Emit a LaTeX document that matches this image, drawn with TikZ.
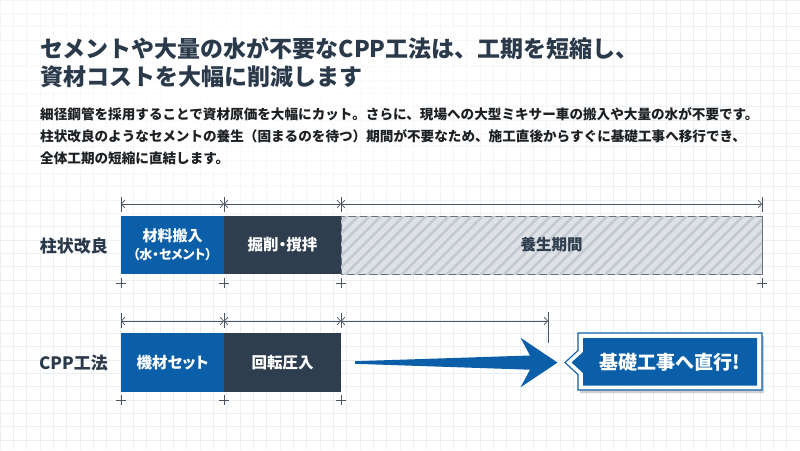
\documentclass[tikz,border=0pt]{standalone}
\usepackage{fontspec}
\newfontfamily\jp{Noto Sans CJK JP}
\newfontfamily\jpp{Noto Sans CJK JP}[RawFeature=+palt]
\usetikzlibrary{arrows.meta,patterns.meta,fadings}
\definecolor{cblue}{HTML}{0B5FA8}
\definecolor{cdark}{HTML}{2E3E4F}
\definecolor{ctitle}{HTML}{2B3A4B}
\definecolor{cbody}{HTML}{1E2124}
\definecolor{cgrid}{HTML}{ECEFF2}
\definecolor{cline}{HTML}{4A5561}
\definecolor{chatchbg}{HTML}{DEE2E6}
\definecolor{chatch}{HTML}{C2C9D0}
\tikzfading[name=fadeC, inner color=transparent!0, outer color=transparent!100]
\tikzset{
  gridline/.style={draw=cgrid, line width=0.6pt},
  titletxt/.style={font=\jp\bfseries\fontsize{23}{28}\selectfont, text=ctitle, anchor=base west, inner sep=0pt},
  bodytxt/.style={font=\jp\bfseries\fontsize{13.6}{18}\selectfont, text=cbody, anchor=base west, inner sep=0pt},
  rowlbl/.style={font=\jp\bfseries\fontsize{17}{20}\selectfont, text=ctitle, anchor=east, inner sep=0pt},
  boxbase/.style={inner sep=0pt, align=center, font=\jpp\bfseries\fontsize{15.5}{19}\selectfont},
  bluebox/.style={boxbase, fill=cblue, text=white},
  darkbox/.style={boxbase, fill=cdark, text=white},
  hatchbox/.style={boxbase, fill=chatchbg, draw=cline!85, line width=0.8pt, text=cdark,
    postaction={pattern={Lines[angle=45,distance=8pt,line width=2.6pt]}, pattern color=chatch}},
  dimline/.style={draw=cline, line width=0.7pt, {Straight Barb[length=3.5pt,width=8pt]}-{Straight Barb[length=3.5pt,width=8pt]}},
  tickline/.style={draw=cline, line width=0.7pt},
  crossmark/.style={draw=cline, line width=0.8pt},
  calltxt/.style={font=\jp\bfseries\fontsize{19}{22}\selectfont, text=white, inner sep=0pt}
}
\begin{document}
\begin{tikzpicture}[x=1pt,y=-1pt]
\useasboundingbox (0,0) rectangle (800,450);
\fill[white] (0,0) rectangle (800,450);
% grid
\foreach \i in {0,...,60} \draw[gridline] (\i*13.333,0) -- (\i*13.333,450);
\foreach \j in {0,...,34} \draw[gridline] (0,\j*13.333) -- (800,\j*13.333);
\fill[white, path fading=fadeC] (-200,-150) rectangle (700,300);

% title and body
\node[titletxt] (t1) at (40,57.7) {セメントや大量の水が不要なCPP工法は、工期を短縮し、};
\node[titletxt] (t2) at (40,85.7) {資材コストを大幅に削減します};
\node[bodytxt] (b1) at (40,119) {細径鋼管を採用することで資材原価を大幅にカット。さらに、現場への大型ミキサー車の搬入や大量の水が不要です。};
\node[bodytxt] (b2) at (40,141) {柱状改良のようなセメントの養生（固まるのを待つ）期間が不要なため、施工直後からすぐに基礎工事へ移行でき、};
\node[bodytxt] (b3) at (40,163) {全体工期の短縮に直結します。};

% row 1
\node[rowlbl] (l1) at (108,246) {柱状改良};
\node[bluebox, minimum width=103pt, minimum height=58pt] (r1a) at (172.5,245) {\fontsize{15}{18}\selectfont 材料搬入\\[-1pt]{\fontsize{13}{16}\selectfont （水・セメント）}};
\node[darkbox, minimum width=117pt, minimum height=58pt] (r1b) at (282.5,245) {掘削・撹拌};
\node[hatchbox, minimum width=421pt, minimum height=58pt] (r1c) at (551.5,245) {養生期間};

\foreach \x in {121,224,341,762} {
  \draw[tickline] (\x,197) -- (\x,212);
  \draw[crossmark] (\x-5,283) -- (\x+5,283) (\x,278) -- (\x,288);
}
\coordinate (d1a) at (121,204);
\coordinate (d1b) at (224,204);
\coordinate (d1c) at (341,204);
\coordinate (d1d) at (762,204);
\draw[dimline] (d1a) -- (d1b);
\draw[dimline] (d1b) -- (d1c);
\draw[dimline] (d1c) -- (d1d);

% row 2
\node[rowlbl] (l2) at (108,363) {CPP工法};
\node[bluebox, minimum width=103pt, minimum height=59pt] (r2a) at (172.5,362.5) {機材セット};
\node[darkbox, minimum width=117pt, minimum height=59pt] (r2b) at (282.5,362.5) {回転圧入};

\foreach \x in {121,224,341} {
  \draw[tickline] (\x,313) -- (\x,328);
  \draw[crossmark] (\x-5,400) -- (\x+5,400) (\x,395) -- (\x,405);
}
\draw[tickline] (548,312) -- (548,343);
\coordinate (d2a) at (121,321);
\coordinate (d2b) at (224,321);
\coordinate (d2c) at (341,321);
\coordinate (d2d) at (548,321);
\draw[dimline] (d2a) -- (d2b);
\draw[dimline] (d2b) -- (d2c);
\draw[dimline] (d2c) -- (d2d);

% big arrow
\fill[cblue] (355,361.2) -- (530,355.5) -- (520.5,337.7) -- (557.5,362.6) -- (520.5,387.3) -- (530,369.7) -- (355,363.8) -- cycle;

% callout
\fill[black, opacity=0.18] (580,336) -- (764,336) -- (764,393) -- (580,393) -- (580,377) -- (567,365.5) -- (580,354) -- cycle;
\filldraw[fill=white, draw=cblue, line width=1.1pt] (578,333) -- (762,333) -- (762,390) -- (578,390) -- (578,374.5) -- (565,362.5) -- (578,350.5) -- cycle;
\fill[cblue] (583,338) -- (757,338) -- (757,385.5) -- (583,385.5) -- (583,373) -- (571.5,362.5) -- (583,352) -- cycle;
\node[calltxt] (goal) at (670,362) {基礎工事へ直行!};
\end{tikzpicture}
\end{document}
